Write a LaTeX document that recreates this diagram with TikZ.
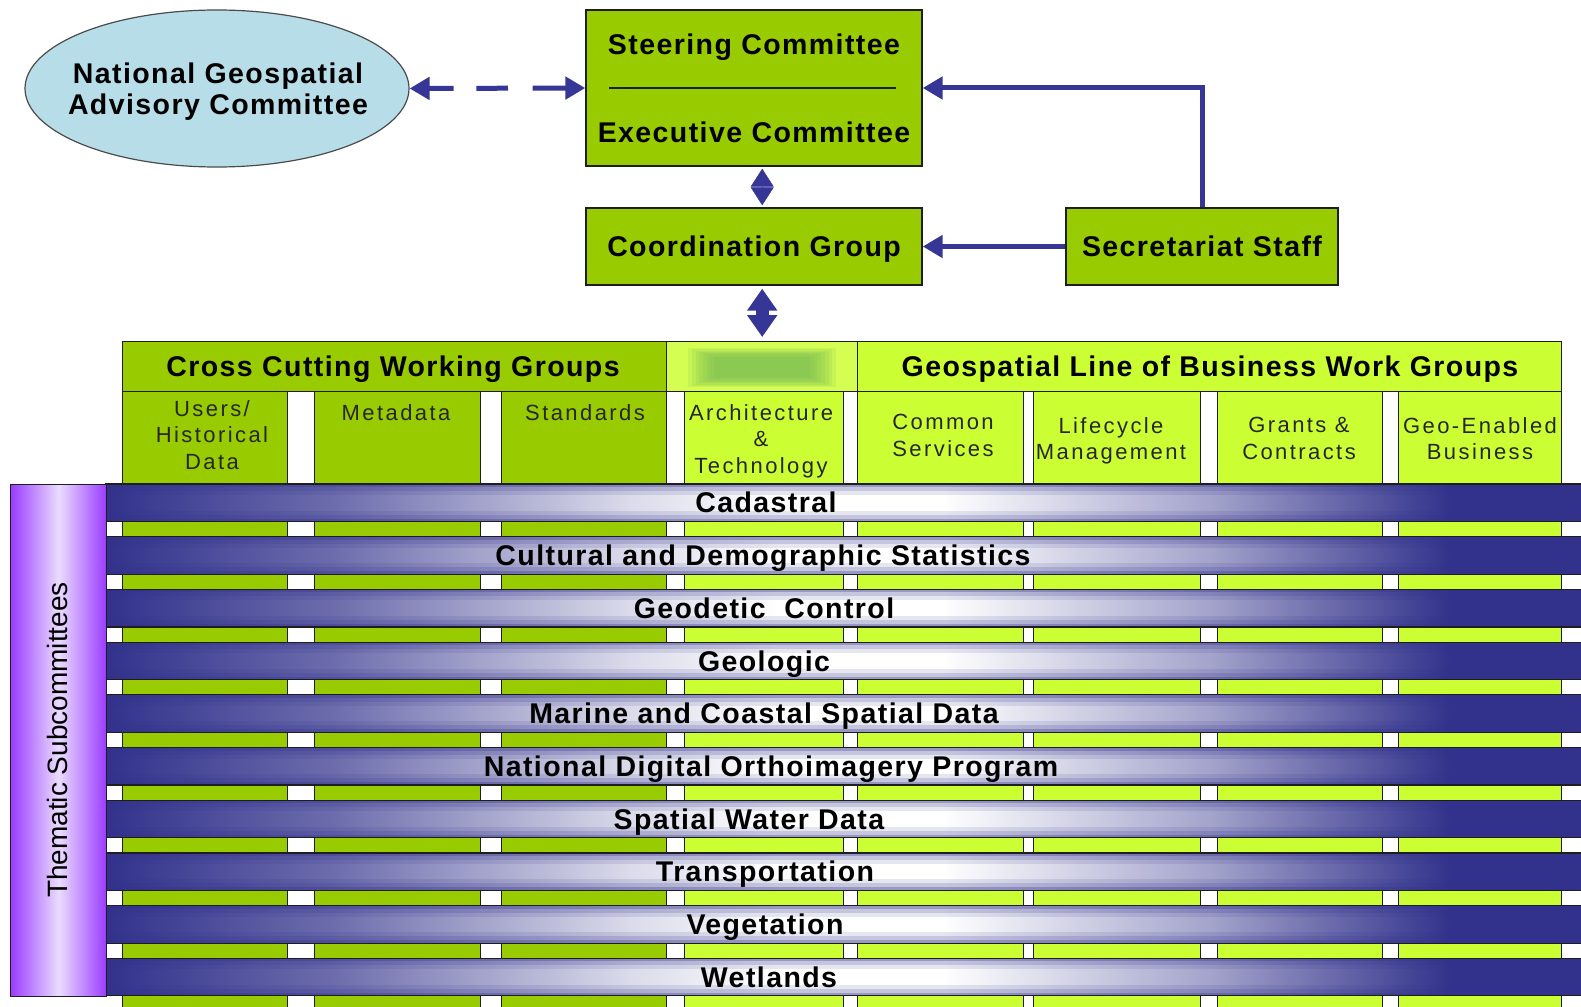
\documentclass[tikz,border=0pt]{standalone}
\usepackage{fontspec}
\setmainfont{Liberation Sans}
\newfontfamily\lsfont[LetterSpace=5]{Liberation Sans}
\newfontfamily\lcfont[LetterSpace=11]{Liberation Sans}
\usetikzlibrary{arrows.meta,shapes.geometric,calc}
\definecolor{gA}{HTML}{99CC00}
\definecolor{gB}{HTML}{CCFF33}
\definecolor{ablue}{HTML}{363696}
\definecolor{bandD}{HTML}{32328C}
\definecolor{purp}{HTML}{9A3BFF}
\definecolor{purpL}{HTML}{EADCFF}
\definecolor{ellF}{HTML}{B7DEE8}
\definecolor{lineC}{HTML}{1E1E1E}
\definecolor{hdg}{HTML}{71B554}
\colorlet{bandA}{bandD!72!white}
\colorlet{bandB}{bandD!18!white}
\colorlet{bandC}{bandD!45!white}
\pgfdeclarehorizontalshading{bandshade}{100bp}{color(0bp)=(bandD); color(25bp)=(bandD); color(32.5bp)=(bandA); color(42.5bp)=(bandB); color(47.5bp)=(white); color(53bp)=(white); color(62bp)=(bandC); color(70bp)=(bandD); color(100bp)=(bandD)}
\begin{document}
\begin{tikzpicture}[x=1pt,y=-1pt,
  box/.style={draw=lineC, line width=1.4pt, fill=gA, rectangle, inner sep=0pt},
  bt/.style={font=\lsfont\bfseries\fontsize{28.5}{31.5}\selectfont, text=black, inner sep=0pt, align=center},
  bt1/.style={bt, text height=20.4pt, text depth=0pt},
  ct/.style={font=\lcfont\fontsize{22}{26.5}\selectfont, text=black!85, inner sep=0pt, align=center, anchor=north},
  colbox/.style={draw=lineC, line width=1.2pt, rectangle, inner sep=0pt, anchor=north west},
  conn/.style={draw=ablue, line width=5pt},
  tipA/.style={-{Triangle[length=20pt,width=22pt]}},
]
\useasboundingbox (0,0) rectangle (1581,1006);
\fill[white] (0,0) rectangle (1581,1006);
\clip (0,0) rectangle (1581,1006);

% ---- top part ----
\node[ellipse, draw=lineC!80, line width=1.2pt, fill=ellF, minimum width=384pt, minimum height=157pt, inner sep=0pt] (ngac) at (217,88.5) {};
\node[bt, anchor=north] (ngact) at (218,62.5) {National Geospatial\\Advisory Committee};

\node[box, minimum width=336pt, minimum height=156pt] (steer) at (754,88) {};
\node[bt1] (steert) at (754,44) {Steering Committee};
\draw[lineC, line width=2pt] (609,88) -- (896,88);
\node[bt1] (exect) at (754,132) {Executive Committee};

\node[box, minimum width=336pt, minimum height=77pt] (coord) at (754,246.5) {};
\node[bt1] (coordt) at (754,246) {Coordination Group};

\node[box, minimum width=272pt, minimum height=77pt] (sec) at (1202,246.5) {};
\node[bt1] (sect) at (1202,246) {Secretariat Staff};

% ---- header row ----
\node[box, minimum width=544pt, minimum height=50pt, anchor=north west] (hdcross) at (122,341) {};
\node[bt1] (hdcrosst) at (393,366) {Cross Cutting Working Groups};
\node[box, fill=gB!85!white, minimum width=191pt, minimum height=50pt, anchor=north west] (hdmid) at (666,341) {};
\foreach \i in {0,...,7}
  \fill[hdg, opacity=0.14] (714-3.7*\i,357-1.3*\i) rectangle (810+3.7*\i,378+1.3*\i);
\node[box, fill=gB, minimum width=704pt, minimum height=50pt, anchor=north west] (hdgeo) at (857,341) {};
\node[bt1] (hdgeot) at (1210,366) {Geospatial Line of Business Work Groups};

% ---- connectors ----
\draw[conn, dash pattern=on 0pt off 400pt, {Triangle[length=20pt,width=22pt]}-{Triangle[length=20pt,width=22pt]}] (ngac.east) -- (steer.west);
\foreach \s/\e in {0.10/0.25, 0.38/0.56, 0.70/0.90}
  \draw[conn] ($(ngac.east)!\s!(steer.west)$) -- ($(ngac.east)!\e!(steer.west)$);
\draw[conn, tipA] (sec.north) -- (sec.north |- steer.east) -- (steer.east);
\draw[conn, tipA] (sec.west) -- (coord.east);
\draw[draw=ablue, line width=0.5pt, {Triangle[length=18pt,width=23pt]}-{Triangle[length=18pt,width=23pt]}, shorten <=2pt, shorten >=2pt] (steer.south -| hdmid.north) -- (coord.north -| hdmid.north);
\draw[draw=ablue, line width=13pt, {Triangle[length=22pt,width=29pt]}-{Triangle[length=22pt,width=29pt]}, shorten <=3pt, shorten >=4pt] (coord.south -| hdmid.north) -- (hdmid.north);

% ---- columns ----
\foreach \a/\b/\c [count=\n] in {122/287/gA, 314/480/gA, 501/666/gA, 684/843/gB, 857/1023/gB, 1033/1200/gB, 1217/1382/gB, 1398/1561/gB}
  \node[colbox, fill=\c, minimum width={\b-\a}, minimum height=625pt] (col\n) at (\a,391) {};

\node[ct] (lab1) at (212,400) {Users/\\Historical\\Data};
\node[ct] (lab2) at (396,404) {Metadata};
\node[ct] (lab3) at (585,404) {Standards};
\node[ct] (lab4) at (761,404) {Architecture\\\&\\Technology};
\node[ct] (lab5) at (943,414) {Common\\Services};
\node[ct] (lab6) at (1111,417) {Lifecycle\\Management};
\node[ct] (lab7) at (1299,417) {Grants \&\\Contracts};
\node[ct] (lab8) at (1480,417) {Geo-Enabled\\Business};

% ---- bands ----
\foreach \k in {0,...,9} {
  \pgfmathsetmacro\yt{484+52.7*\k}
  \pgfmathsetmacro\yb{\yt+37.5}
  \path[shading=bandshade] (106,\yt) rectangle (1600,\yb);
  \fill[bandD, opacity=0.5] (106,\yt) rectangle (1600,\yt+3);
  \fill[bandD, opacity=0.28] (106,\yt+3) rectangle (1600,\yt+7);
  \fill[bandD, opacity=0.12] (106,\yt+7) rectangle (1600,\yt+11);
  \fill[bandD, opacity=0.12] (106,\yb-11) rectangle (1600,\yb-7);
  \fill[bandD, opacity=0.28] (106,\yb-7) rectangle (1600,\yb-3);
  \fill[bandD, opacity=0.5] (106,\yb-3) rectangle (1600,\yb);
  \draw[lineC, line width=1.2pt] (106,\yt) rectangle (1600,\yb);
}
\foreach \k/\x/\t in {0/766/Cadastral, 1/763/Cultural and Demographic Statistics, 2/764/Geodetic\ \ Control, 3/764/Geologic, 4/764/Marine and Coastal Spatial Data, 5/771/National Digital Orthoimagery Program, 6/749/Spatial Water Data, 7/765/Transportation, 8/765/Vegetation, 9/769/Wetlands}
  \node[bt1] (band\k) at (\x,{502.75+52.7*\k}) {\t};

% ---- thematic bar ----
\node[draw=lineC, line width=1.2pt, left color=purp, right color=purp, middle color=purpL, minimum width=96pt, minimum height=512pt, inner sep=0pt, anchor=north west] (them) at (10,484) {};
\node[font=\fontsize{28}{32}\selectfont, text height=20pt, text depth=0pt, inner sep=0pt, rotate=90] (themt) at (57,740) {Thematic Subcommittees};
\end{tikzpicture}
\end{document}
